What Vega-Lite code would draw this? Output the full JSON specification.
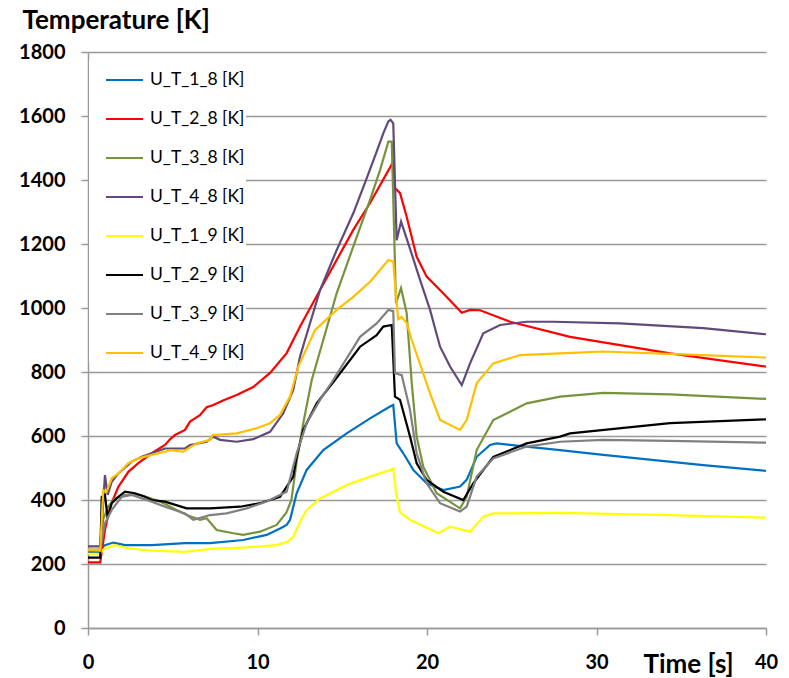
{
"$schema": "https://vega.github.io/schema/vega-lite/v6.json",
"width": 678, "height": 576,
"autosize": {"type": "none"},
"padding": {"left": 88, "top": 52, "right": 23, "bottom": 50},
"background": "white",
"config": {"view": {"stroke": null}, "font": "Lato"},
"datasets": {
"raw": [
{"s":"U_T_1_8 [K]","t":0,"v":238},{"s":"U_T_1_8 [K]","t":0.72,"v":238},{"s":"U_T_1_8 [K]","t":0.9,"v":255},{"s":"U_T_1_8 [K]","t":1.0,"v":259},{"s":"U_T_1_8 [K]","t":1.49,"v":267},{"s":"U_T_1_8 [K]","t":2.18,"v":259},{"s":"U_T_1_8 [K]","t":3.76,"v":259},{"s":"U_T_1_8 [K]","t":5.72,"v":265},{"s":"U_T_1_8 [K]","t":7.2,"v":265},{"s":"U_T_1_8 [K]","t":9.16,"v":275},{"s":"U_T_1_8 [K]","t":10.54,"v":291},{"s":"U_T_1_8 [K]","t":11.33,"v":311},{"s":"U_T_1_8 [K]","t":11.72,"v":322},{"s":"U_T_1_8 [K]","t":11.92,"v":338},{"s":"U_T_1_8 [K]","t":12.31,"v":421},{"s":"U_T_1_8 [K]","t":12.9,"v":494},{"s":"U_T_1_8 [K]","t":13.88,"v":556},{"s":"U_T_1_8 [K]","t":15.26,"v":608},{"s":"U_T_1_8 [K]","t":16.64,"v":655},{"s":"U_T_1_8 [K]","t":17.82,"v":692},{"s":"U_T_1_8 [K]","t":18.01,"v":697},{"s":"U_T_1_8 [K]","t":18.21,"v":577},{"s":"U_T_1_8 [K]","t":18.6,"v":546},{"s":"U_T_1_8 [K]","t":19.19,"v":494},{"s":"U_T_1_8 [K]","t":19.98,"v":452},{"s":"U_T_1_8 [K]","t":20.96,"v":431},{"s":"U_T_1_8 [K]","t":21.95,"v":442},{"s":"U_T_1_8 [K]","t":22.34,"v":463},{"s":"U_T_1_8 [K]","t":22.93,"v":535},{"s":"U_T_1_8 [K]","t":23.72,"v":572},{"s":"U_T_1_8 [K]","t":24.11,"v":577},{"s":"U_T_1_8 [K]","t":25.29,"v":570},{"s":"U_T_1_8 [K]","t":27.85,"v":556},{"s":"U_T_1_8 [K]","t":30.4,"v":541},{"s":"U_T_1_8 [K]","t":36.3,"v":509},{"s":"U_T_1_8 [K]","t":40,"v":491},
{"s":"U_T_2_8 [K]","t":0,"v":205},{"s":"U_T_2_8 [K]","t":0.72,"v":205},{"s":"U_T_2_8 [K]","t":1.0,"v":306},{"s":"U_T_2_8 [K]","t":1.3,"v":379},{"s":"U_T_2_8 [K]","t":1.79,"v":441},{"s":"U_T_2_8 [K]","t":2.38,"v":488},{"s":"U_T_2_8 [K]","t":2.97,"v":515},{"s":"U_T_2_8 [K]","t":3.76,"v":546},{"s":"U_T_2_8 [K]","t":4.54,"v":572},{"s":"U_T_2_8 [K]","t":4.84,"v":590},{"s":"U_T_2_8 [K]","t":5.13,"v":603},{"s":"U_T_2_8 [K]","t":5.72,"v":619},{"s":"U_T_2_8 [K]","t":6.02,"v":645},{"s":"U_T_2_8 [K]","t":6.6,"v":665},{"s":"U_T_2_8 [K]","t":7.0,"v":690},{"s":"U_T_2_8 [K]","t":7.39,"v":697},{"s":"U_T_2_8 [K]","t":8.0,"v":712},{"s":"U_T_2_8 [K]","t":8.77,"v":728},{"s":"U_T_2_8 [K]","t":9.75,"v":753},{"s":"U_T_2_8 [K]","t":10.74,"v":797},{"s":"U_T_2_8 [K]","t":11.72,"v":859},{"s":"U_T_2_8 [K]","t":12.51,"v":942},{"s":"U_T_2_8 [K]","t":13.69,"v":1056},{"s":"U_T_2_8 [K]","t":15.65,"v":1244},{"s":"U_T_2_8 [K]","t":16.64,"v":1328},{"s":"U_T_2_8 [K]","t":17.98,"v":1454},{"s":"U_T_2_8 [K]","t":18.11,"v":1375},{"s":"U_T_2_8 [K]","t":18.41,"v":1359},{"s":"U_T_2_8 [K]","t":18.8,"v":1285},{"s":"U_T_2_8 [K]","t":19.39,"v":1160},{"s":"U_T_2_8 [K]","t":19.98,"v":1098},{"s":"U_T_2_8 [K]","t":20.94,"v":1047},{"s":"U_T_2_8 [K]","t":22.05,"v":985},{"s":"U_T_2_8 [K]","t":22.54,"v":994},{"s":"U_T_2_8 [K]","t":23.13,"v":993},{"s":"U_T_2_8 [K]","t":24.9,"v":957},{"s":"U_T_2_8 [K]","t":28.44,"v":910},{"s":"U_T_2_8 [K]","t":34.34,"v":858},{"s":"U_T_2_8 [K]","t":40,"v":817},
{"s":"U_T_3_8 [K]","t":0,"v":245},{"s":"U_T_3_8 [K]","t":0.72,"v":245},{"s":"U_T_3_8 [K]","t":0.9,"v":340},{"s":"U_T_3_8 [K]","t":1.2,"v":380},{"s":"U_T_3_8 [K]","t":1.6,"v":405},{"s":"U_T_3_8 [K]","t":2.18,"v":416},{"s":"U_T_3_8 [K]","t":3.07,"v":416},{"s":"U_T_3_8 [K]","t":4.25,"v":395},{"s":"U_T_3_8 [K]","t":5.03,"v":374},{"s":"U_T_3_8 [K]","t":5.82,"v":353},{"s":"U_T_3_8 [K]","t":6.61,"v":338},{"s":"U_T_3_8 [K]","t":7.0,"v":343},{"s":"U_T_3_8 [K]","t":7.59,"v":306},{"s":"U_T_3_8 [K]","t":8.57,"v":296},{"s":"U_T_3_8 [K]","t":9.16,"v":291},{"s":"U_T_3_8 [K]","t":10.15,"v":301},{"s":"U_T_3_8 [K]","t":11.13,"v":322},{"s":"U_T_3_8 [K]","t":11.7,"v":360},{"s":"U_T_3_8 [K]","t":12.0,"v":400},{"s":"U_T_3_8 [K]","t":12.31,"v":520},{"s":"U_T_3_8 [K]","t":12.7,"v":640},{"s":"U_T_3_8 [K]","t":13.2,"v":775},{"s":"U_T_3_8 [K]","t":13.88,"v":900},{"s":"U_T_3_8 [K]","t":14.67,"v":1046},{"s":"U_T_3_8 [K]","t":15.65,"v":1192},{"s":"U_T_3_8 [K]","t":16.64,"v":1338},{"s":"U_T_3_8 [K]","t":17.23,"v":1431},{"s":"U_T_3_8 [K]","t":17.72,"v":1520},{"s":"U_T_3_8 [K]","t":17.92,"v":1520},{"s":"U_T_3_8 [K]","t":18.17,"v":1015},{"s":"U_T_3_8 [K]","t":18.47,"v":1062},{"s":"U_T_3_8 [K]","t":18.8,"v":985},{"s":"U_T_3_8 [K]","t":19.1,"v":765},{"s":"U_T_3_8 [K]","t":19.39,"v":598},{"s":"U_T_3_8 [K]","t":19.78,"v":504},{"s":"U_T_3_8 [K]","t":20.57,"v":421},{"s":"U_T_3_8 [K]","t":21.95,"v":374},{"s":"U_T_3_8 [K]","t":22.34,"v":410},{"s":"U_T_3_8 [K]","t":22.93,"v":556},{"s":"U_T_3_8 [K]","t":23.91,"v":650},{"s":"U_T_3_8 [K]","t":25.88,"v":702},{"s":"U_T_3_8 [K]","t":27.85,"v":723},{"s":"U_T_3_8 [K]","t":30.4,"v":735},{"s":"U_T_3_8 [K]","t":34.34,"v":730},{"s":"U_T_3_8 [K]","t":40,"v":716},
{"s":"U_T_4_8 [K]","t":0,"v":255},{"s":"U_T_4_8 [K]","t":0.72,"v":255},{"s":"U_T_4_8 [K]","t":0.85,"v":350},{"s":"U_T_4_8 [K]","t":1.0,"v":478},{"s":"U_T_4_8 [K]","t":1.16,"v":416},{"s":"U_T_4_8 [K]","t":1.4,"v":457},{"s":"U_T_4_8 [K]","t":1.79,"v":483},{"s":"U_T_4_8 [K]","t":2.58,"v":520},{"s":"U_T_4_8 [K]","t":3.17,"v":535},{"s":"U_T_4_8 [K]","t":3.76,"v":546},{"s":"U_T_4_8 [K]","t":4.54,"v":561},{"s":"U_T_4_8 [K]","t":5.72,"v":561},{"s":"U_T_4_8 [K]","t":6.02,"v":572},{"s":"U_T_4_8 [K]","t":7.0,"v":582},{"s":"U_T_4_8 [K]","t":7.39,"v":598},{"s":"U_T_4_8 [K]","t":7.79,"v":588},{"s":"U_T_4_8 [K]","t":8.77,"v":582},{"s":"U_T_4_8 [K]","t":9.75,"v":590},{"s":"U_T_4_8 [K]","t":10.74,"v":613},{"s":"U_T_4_8 [K]","t":11.52,"v":671},{"s":"U_T_4_8 [K]","t":12.11,"v":744},{"s":"U_T_4_8 [K]","t":12.51,"v":848},{"s":"U_T_4_8 [K]","t":12.8,"v":900},{"s":"U_T_4_8 [K]","t":13.69,"v":1056},{"s":"U_T_4_8 [K]","t":14.67,"v":1181},{"s":"U_T_4_8 [K]","t":15.65,"v":1296},{"s":"U_T_4_8 [K]","t":16.44,"v":1405},{"s":"U_T_4_8 [K]","t":17.03,"v":1489},{"s":"U_T_4_8 [K]","t":17.42,"v":1546},{"s":"U_T_4_8 [K]","t":17.72,"v":1583},{"s":"U_T_4_8 [K]","t":17.85,"v":1588},{"s":"U_T_4_8 [K]","t":18.01,"v":1577},{"s":"U_T_4_8 [K]","t":18.21,"v":1212},{"s":"U_T_4_8 [K]","t":18.47,"v":1270},{"s":"U_T_4_8 [K]","t":19.0,"v":1185},{"s":"U_T_4_8 [K]","t":19.59,"v":1088},{"s":"U_T_4_8 [K]","t":20.18,"v":994},{"s":"U_T_4_8 [K]","t":20.77,"v":879},{"s":"U_T_4_8 [K]","t":21.36,"v":817},{"s":"U_T_4_8 [K]","t":22.05,"v":759},{"s":"U_T_4_8 [K]","t":22.54,"v":827},{"s":"U_T_4_8 [K]","t":23.32,"v":921},{"s":"U_T_4_8 [K]","t":24.31,"v":947},{"s":"U_T_4_8 [K]","t":25.88,"v":957},{"s":"U_T_4_8 [K]","t":27.43,"v":957},{"s":"U_T_4_8 [K]","t":31.39,"v":952},{"s":"U_T_4_8 [K]","t":36.3,"v":937},{"s":"U_T_4_8 [K]","t":40,"v":918},
{"s":"U_T_1_9 [K]","t":0,"v":232},{"s":"U_T_1_9 [K]","t":0.72,"v":232},{"s":"U_T_1_9 [K]","t":0.9,"v":245},{"s":"U_T_1_9 [K]","t":1.0,"v":249},{"s":"U_T_1_9 [K]","t":1.59,"v":259},{"s":"U_T_1_9 [K]","t":2.38,"v":249},{"s":"U_T_1_9 [K]","t":3.76,"v":242},{"s":"U_T_1_9 [K]","t":5.72,"v":238},{"s":"U_T_1_9 [K]","t":7.2,"v":247},{"s":"U_T_1_9 [K]","t":9.36,"v":252},{"s":"U_T_1_9 [K]","t":11.13,"v":259},{"s":"U_T_1_9 [K]","t":11.8,"v":270},{"s":"U_T_1_9 [K]","t":12.11,"v":285},{"s":"U_T_1_9 [K]","t":12.51,"v":332},{"s":"U_T_1_9 [K]","t":12.9,"v":369},{"s":"U_T_1_9 [K]","t":13.69,"v":405},{"s":"U_T_1_9 [K]","t":15.26,"v":447},{"s":"U_T_1_9 [K]","t":16.64,"v":473},{"s":"U_T_1_9 [K]","t":17.82,"v":494},{"s":"U_T_1_9 [K]","t":18.01,"v":499},{"s":"U_T_1_9 [K]","t":18.15,"v":430},{"s":"U_T_1_9 [K]","t":18.4,"v":362},{"s":"U_T_1_9 [K]","t":19.0,"v":338},{"s":"U_T_1_9 [K]","t":20.67,"v":296},{"s":"U_T_1_9 [K]","t":21.36,"v":317},{"s":"U_T_1_9 [K]","t":22.54,"v":301},{"s":"U_T_1_9 [K]","t":23.32,"v":348},{"s":"U_T_1_9 [K]","t":23.91,"v":358},{"s":"U_T_1_9 [K]","t":27.85,"v":360},{"s":"U_T_1_9 [K]","t":34.34,"v":353},{"s":"U_T_1_9 [K]","t":40,"v":345},
{"s":"U_T_2_9 [K]","t":0,"v":220},{"s":"U_T_2_9 [K]","t":0.72,"v":220},{"s":"U_T_2_9 [K]","t":0.81,"v":410},{"s":"U_T_2_9 [K]","t":1.0,"v":416},{"s":"U_T_2_9 [K]","t":1.16,"v":343},{"s":"U_T_2_9 [K]","t":1.4,"v":390},{"s":"U_T_2_9 [K]","t":1.79,"v":410},{"s":"U_T_2_9 [K]","t":2.18,"v":426},{"s":"U_T_2_9 [K]","t":2.77,"v":421},{"s":"U_T_2_9 [K]","t":3.36,"v":410},{"s":"U_T_2_9 [K]","t":3.76,"v":400},{"s":"U_T_2_9 [K]","t":4.54,"v":395},{"s":"U_T_2_9 [K]","t":5.82,"v":374},{"s":"U_T_2_9 [K]","t":7.2,"v":374},{"s":"U_T_2_9 [K]","t":8.97,"v":379},{"s":"U_T_2_9 [K]","t":10.15,"v":390},{"s":"U_T_2_9 [K]","t":11.33,"v":410},{"s":"U_T_2_9 [K]","t":12.11,"v":473},{"s":"U_T_2_9 [K]","t":12.31,"v":535},{"s":"U_T_2_9 [K]","t":12.7,"v":619},{"s":"U_T_2_9 [K]","t":13.49,"v":702},{"s":"U_T_2_9 [K]","t":14.57,"v":775},{"s":"U_T_2_9 [K]","t":16.05,"v":879},{"s":"U_T_2_9 [K]","t":17.03,"v":915},{"s":"U_T_2_9 [K]","t":17.42,"v":942},{"s":"U_T_2_9 [K]","t":17.92,"v":947},{"s":"U_T_2_9 [K]","t":18.11,"v":723},{"s":"U_T_2_9 [K]","t":18.41,"v":713},{"s":"U_T_2_9 [K]","t":19.0,"v":598},{"s":"U_T_2_9 [K]","t":19.39,"v":515},{"s":"U_T_2_9 [K]","t":19.98,"v":463},{"s":"U_T_2_9 [K]","t":20.96,"v":426},{"s":"U_T_2_9 [K]","t":22.14,"v":400},{"s":"U_T_2_9 [K]","t":22.73,"v":452},{"s":"U_T_2_9 [K]","t":23.91,"v":535},{"s":"U_T_2_9 [K]","t":25.88,"v":577},{"s":"U_T_2_9 [K]","t":27.85,"v":598},{"s":"U_T_2_9 [K]","t":28.44,"v":608},{"s":"U_T_2_9 [K]","t":34.34,"v":640},{"s":"U_T_2_9 [K]","t":40,"v":652},
{"s":"U_T_3_9 [K]","t":0,"v":240},{"s":"U_T_3_9 [K]","t":0.72,"v":240},{"s":"U_T_3_9 [K]","t":0.9,"v":300},{"s":"U_T_3_9 [K]","t":1.0,"v":327},{"s":"U_T_3_9 [K]","t":1.4,"v":369},{"s":"U_T_3_9 [K]","t":1.99,"v":410},{"s":"U_T_3_9 [K]","t":2.58,"v":416},{"s":"U_T_3_9 [K]","t":3.76,"v":395},{"s":"U_T_3_9 [K]","t":4.54,"v":379},{"s":"U_T_3_9 [K]","t":5.72,"v":358},{"s":"U_T_3_9 [K]","t":6.21,"v":338},{"s":"U_T_3_9 [K]","t":7.2,"v":353},{"s":"U_T_3_9 [K]","t":8.18,"v":358},{"s":"U_T_3_9 [K]","t":9.36,"v":374},{"s":"U_T_3_9 [K]","t":10.54,"v":395},{"s":"U_T_3_9 [K]","t":11.72,"v":426},{"s":"U_T_3_9 [K]","t":12.31,"v":546},{"s":"U_T_3_9 [K]","t":12.9,"v":640},{"s":"U_T_3_9 [K]","t":13.69,"v":713},{"s":"U_T_3_9 [K]","t":14.47,"v":775},{"s":"U_T_3_9 [K]","t":16.05,"v":910},{"s":"U_T_3_9 [K]","t":17.03,"v":952},{"s":"U_T_3_9 [K]","t":17.72,"v":994},{"s":"U_T_3_9 [K]","t":18.01,"v":990},{"s":"U_T_3_9 [K]","t":18.11,"v":796},{"s":"U_T_3_9 [K]","t":18.51,"v":790},{"s":"U_T_3_9 [K]","t":19.0,"v":681},{"s":"U_T_3_9 [K]","t":19.39,"v":546},{"s":"U_T_3_9 [K]","t":19.98,"v":452},{"s":"U_T_3_9 [K]","t":20.77,"v":390},{"s":"U_T_3_9 [K]","t":21.95,"v":364},{"s":"U_T_3_9 [K]","t":22.34,"v":379},{"s":"U_T_3_9 [K]","t":22.93,"v":473},{"s":"U_T_3_9 [K]","t":23.91,"v":530},{"s":"U_T_3_9 [K]","t":25.88,"v":567},{"s":"U_T_3_9 [K]","t":27.85,"v":582},{"s":"U_T_3_9 [K]","t":30.4,"v":588},{"s":"U_T_3_9 [K]","t":34.34,"v":585},{"s":"U_T_3_9 [K]","t":40,"v":579},
{"s":"U_T_4_9 [K]","t":0,"v":245},{"s":"U_T_4_9 [K]","t":0.72,"v":243},{"s":"U_T_4_9 [K]","t":0.9,"v":431},{"s":"U_T_4_9 [K]","t":1.1,"v":426},{"s":"U_T_4_9 [K]","t":1.4,"v":468},{"s":"U_T_4_9 [K]","t":1.79,"v":483},{"s":"U_T_4_9 [K]","t":2.38,"v":515},{"s":"U_T_4_9 [K]","t":2.97,"v":530},{"s":"U_T_4_9 [K]","t":3.76,"v":541},{"s":"U_T_4_9 [K]","t":4.54,"v":551},{"s":"U_T_4_9 [K]","t":4.84,"v":556},{"s":"U_T_4_9 [K]","t":5.62,"v":551},{"s":"U_T_4_9 [K]","t":6.41,"v":577},{"s":"U_T_4_9 [K]","t":7.2,"v":588},{"s":"U_T_4_9 [K]","t":7.36,"v":603},{"s":"U_T_4_9 [K]","t":8.77,"v":608},{"s":"U_T_4_9 [K]","t":9.95,"v":624},{"s":"U_T_4_9 [K]","t":10.74,"v":640},{"s":"U_T_4_9 [K]","t":11.33,"v":666},{"s":"U_T_4_9 [K]","t":11.92,"v":723},{"s":"U_T_4_9 [K]","t":12.41,"v":817},{"s":"U_T_4_9 [K]","t":13.39,"v":931},{"s":"U_T_4_9 [K]","t":14.67,"v":994},{"s":"U_T_4_9 [K]","t":15.65,"v":1035},{"s":"U_T_4_9 [K]","t":16.64,"v":1082},{"s":"U_T_4_9 [K]","t":17.72,"v":1150},{"s":"U_T_4_9 [K]","t":18.01,"v":1145},{"s":"U_T_4_9 [K]","t":18.15,"v":1050},{"s":"U_T_4_9 [K]","t":18.3,"v":965},{"s":"U_T_4_9 [K]","t":18.5,"v":972},{"s":"U_T_4_9 [K]","t":18.8,"v":953},{"s":"U_T_4_9 [K]","t":19.1,"v":900},{"s":"U_T_4_9 [K]","t":20.18,"v":733},{"s":"U_T_4_9 [K]","t":20.77,"v":650},{"s":"U_T_4_9 [K]","t":21.95,"v":619},{"s":"U_T_4_9 [K]","t":22.34,"v":650},{"s":"U_T_4_9 [K]","t":22.93,"v":765},{"s":"U_T_4_9 [K]","t":23.91,"v":827},{"s":"U_T_4_9 [K]","t":25.49,"v":853},{"s":"U_T_4_9 [K]","t":27.85,"v":858},{"s":"U_T_4_9 [K]","t":30.4,"v":864},{"s":"U_T_4_9 [K]","t":36.3,"v":853},{"s":"U_T_4_9 [K]","t":40,"v":845}
]},
"data": {"name": "raw"},
"mark": {"type": "line", "strokeWidth": 2.2, "clip": true},
"encoding": {
 "x": {"field": "t", "type": "quantitative", "scale": {"domain": [0, 40], "nice": false},
  "axis": {"values": [0, 10, 20, 30, 40], "grid": false, "title": "Time [s]", "format": "d",
   "titleFont": "Lato", "titleFontSize": 26, "titleFontWeight": "bold", "titleColor": "black",
   "titleAlign": "left", "titleAnchor": "start", "titleX": 555, "titleY": 44, "titleBaseline": "alphabetic",
   "labelFont": "Lato", "labelFontSize": 20, "labelFontWeight": "bold", "labelColor": "black",
   "labelPadding": 17, "labelFlush": false, "tickColor": "#999999", "tickSize": 7, "tickWidth": 1.5,
   "domainColor": "#999999", "domainWidth": 1.5}},
 "y": {"field": "v", "type": "quantitative", "scale": {"domain": [0, 1800], "nice": false},
  "axis": {"values": [0, 200, 400, 600, 800, 1000, 1200, 1400, 1600, 1800], "grid": true, "format": "d",
   "gridColor": "#999999", "gridWidth": 1.5, "domainColor": "#999999", "domainWidth": 1.5,
   "tickColor": "#999999", "tickSize": 7, "tickWidth": 1.5,
   "labelFont": "Lato", "labelFontSize": 20, "labelFontWeight": "bold", "labelColor": "black", "labelPadding": 16,
   "title": "Temperature [K]", "titleFont": "Lato", "titleFontSize": 26, "titleFontWeight": "bold", "titleColor": "black",
   "titleAngle": 0, "titleAlign": "left", "titleAnchor": "start", "titleBaseline": "alphabetic", "titleX": -66, "titleY": -24}},
 "color": {"field": "s", "type": "nominal",
  "scale": {"domain": ["U_T_1_8 [K]", "U_T_2_8 [K]", "U_T_3_8 [K]", "U_T_4_8 [K]", "U_T_1_9 [K]", "U_T_2_9 [K]", "U_T_3_9 [K]", "U_T_4_9 [K]"],
   "range": ["#0070C0", "#FF0000", "#77933C", "#604A7B", "#FFFF00", "#000000", "#808080", "#FFC000"]},
  "legend": {"orient": "none", "legendX": 1, "legendY": 7.5, "title": null, "fillColor": "white", "padding": 1,
   "symbolType": "stroke", "symbolSize": 1369, "symbolStrokeWidth": 2, "symbolOffset": 15,
   "labelFont": "Lato", "labelFontSize": 17.5, "labelColor": "black", "labelOffset": 6, "rowPadding": 11}}
}
}
